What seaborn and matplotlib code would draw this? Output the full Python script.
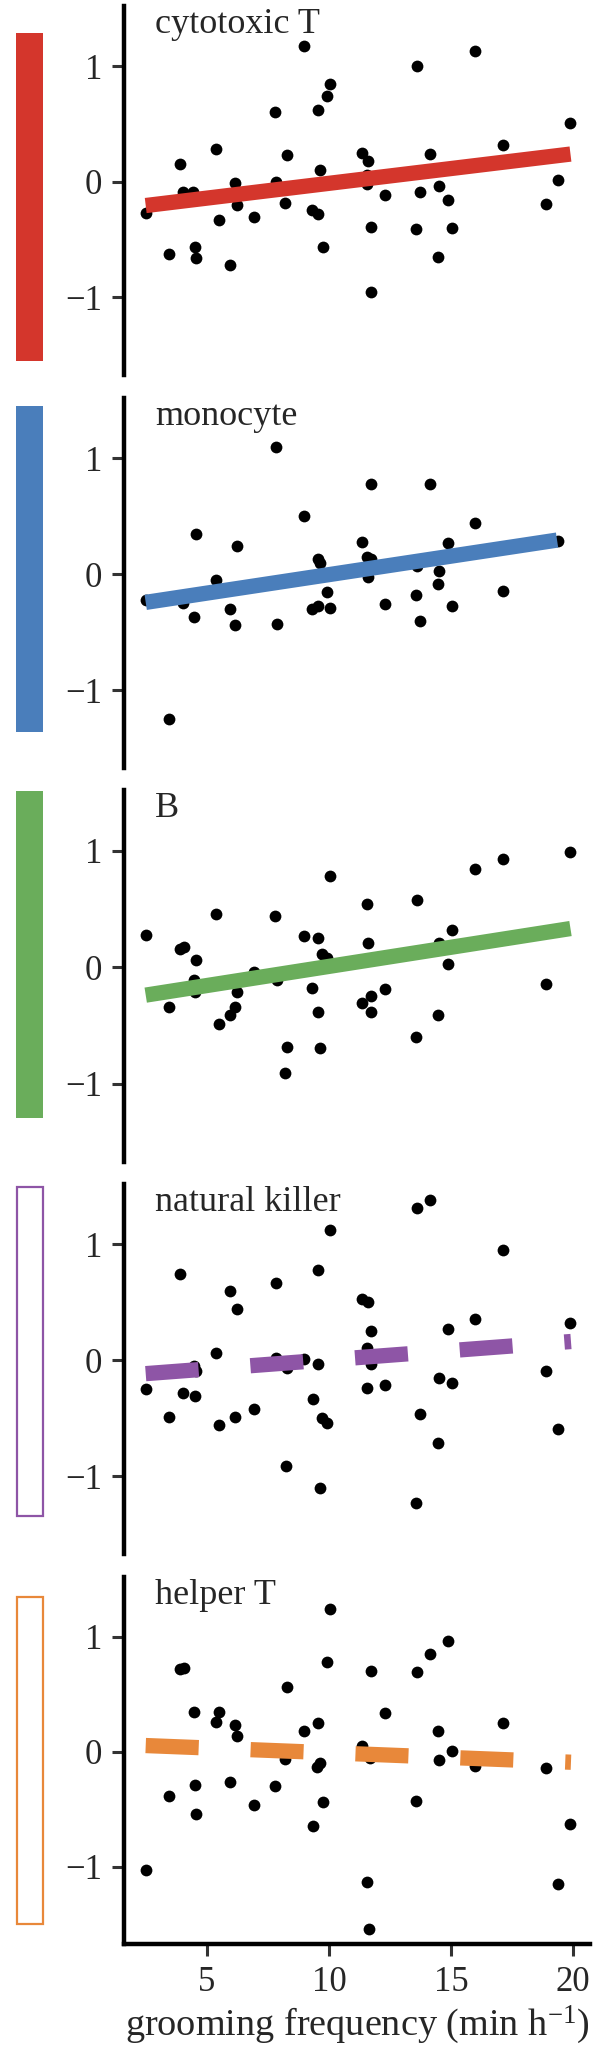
import matplotlib
matplotlib.use("Agg")
import matplotlib.pyplot as plt
import seaborn as sns
from matplotlib.patches import Rectangle

# cell types, colours and whether the slope is drawn solid (significant) or dashed
cell_types = ["cytotoxic T", "monocyte", "B", "natural killer", "helper T"]
colors = ["#D4362C", "#4A7EBB", "#6AAD5B", "#8E55A6", "#E8883A"]
significant = [True, True, True, False, False]

x_cyto = [2.49, 3.46, 3.88, 4.03, 4.44, 4.51, 4.55, 5.37, 5.51, 5.94, 6.15, 6.23, 6.91, 7.80, 7.83,
          8.20, 8.27, 8.98, 9.29, 9.56, 9.56, 9.63, 9.74, 9.90, 10.03, 11.34, 11.61, 11.57, 11.57,
          11.71, 11.72, 12.30, 13.55, 13.59, 13.74, 14.15, 14.45, 14.51, 14.89, 15.05, 15.98, 17.12,
          18.91, 19.40, 19.90]
y_cyto = [-0.27, -0.62, 0.15, -0.09, -0.09, -0.56, -0.66, 0.28, -0.33, -0.72, -0.01, -0.20, -0.30,
          0.60, 0.00, -0.18, 0.23, 1.17, -0.24, -0.28, 0.62, 0.10, -0.56, 0.74, 0.85, 0.25, 0.18,
          0.06, -0.02, -0.39, -0.95, -0.11, -0.41, 1.00, -0.09, 0.24, -0.65, -0.04, -0.16, -0.40,
          1.13, 0.32, -0.19, 0.02, 0.51]

x_mono = [2.49, 3.46, 4.03, 4.47, 4.55, 5.37, 5.94, 6.15, 6.23, 7.81, 7.86, 8.98, 9.32, 9.56, 9.56,
          9.63, 9.90, 10.03, 11.37, 11.57, 11.71, 11.61, 11.72, 12.30, 13.55, 13.59, 13.74, 14.15,
          14.45, 14.51, 14.89, 15.05, 15.98, 17.12, 19.40]
y_mono = [-0.22, -1.25, -0.25, -0.37, 0.35, -0.05, -0.30, -0.44, 0.24, 1.10, -0.43, 0.50, -0.30,
          -0.27, 0.13, 0.10, -0.15, -0.29, 0.28, 0.15, 0.13, -0.02, 0.78, -0.26, -0.18, 0.07, -0.40,
          0.78, -0.08, 0.03, 0.27, -0.27, 0.44, -0.14, 0.29]

x_b = [2.49, 3.46, 3.88, 4.06, 4.55, 4.47, 4.51, 5.37, 5.51, 5.94, 6.15, 6.23, 6.91, 7.80, 7.86,
       8.20, 8.27, 8.98, 9.32, 9.56, 9.56, 9.63, 9.73, 9.90, 10.03, 11.34, 11.57, 11.61, 11.71,
       11.71, 12.30, 13.55, 13.59, 14.45, 14.51, 14.89, 15.05, 15.98, 17.12, 18.91, 19.90]
y_b = [0.28, -0.34, 0.16, 0.17, 0.06, -0.11, -0.21, 0.46, -0.49, -0.41, -0.34, -0.21, -0.04, 0.44,
       -0.11, -0.91, -0.68, 0.27, -0.18, 0.25, -0.38, -0.69, 0.11, 0.08, 0.78, -0.31, 0.54, 0.21,
       -0.25, -0.38, -0.19, -0.60, 0.58, -0.41, 0.21, 0.03, 0.32, 0.84, 0.93, -0.14, 0.99]

x_nk = [2.49, 3.46, 3.88, 4.03, 4.47, 4.55, 4.51, 5.37, 5.51, 5.94, 6.15, 6.23, 6.91, 7.84, 7.81,
        8.22, 8.27, 8.99, 9.33, 9.56, 9.56, 9.73, 9.90, 9.62, 10.03, 11.34, 11.61, 11.71, 11.57,
        11.71, 11.57, 12.30, 13.55, 13.59, 13.74, 14.15, 14.45, 14.51, 14.89, 15.05, 15.98, 17.12,
        18.91, 19.40, 19.90]
y_nk = [-0.25, -0.49, 0.74, -0.28, -0.05, -0.09, -0.31, 0.06, -0.56, 0.60, -0.49, 0.44, -0.42,
        0.67, 0.02, -0.91, -0.07, 0.01, -0.33, 0.78, -0.03, -0.50, -0.54, -1.10, 1.12, 0.53, 0.50,
        0.25, 0.11, -0.03, -0.24, -0.21, -1.23, 1.31, -0.46, 1.38, -0.71, -0.15, 0.27, -0.20,
        0.36, 0.95, -0.09, -0.59, 0.32]

x_helper = [2.49, 3.46, 3.88, 4.06, 4.47, 4.51, 4.55, 5.37, 5.51, 5.94, 6.15, 6.23, 6.91, 7.80,
            8.20, 8.27, 8.98, 9.33, 9.56, 9.52, 9.63, 9.74, 9.90, 10.03, 11.37, 11.57, 11.63,
            11.68, 11.71, 12.30, 13.55, 13.59, 14.15, 14.45, 14.51, 14.89, 15.05, 15.98, 17.12,
            18.91, 19.40, 19.90]
y_helper = [-1.03, -0.38, 0.72, 0.73, 0.35, -0.29, -0.54, 0.26, 0.35, -0.26, 0.23, 0.14, -0.46,
            -0.30, -0.06, 0.56, 0.18, -0.64, 0.25, -0.13, -0.10, -0.44, 0.78, 1.24, 0.05, -1.13,
            -1.54, -0.05, 0.70, 0.34, -0.43, 0.69, 0.85, 0.18, -0.07, 0.96, 0.01, -0.12, 0.25,
            -0.14, -1.15, -0.63]

xs = [x_cyto, x_mono, x_b, x_nk, x_helper]
ys = [y_cyto, y_mono, y_b, y_nk, y_helper]

# fitted slopes, read as end points of each line
fit_x_start = 2.49
fit_x_end = [19.90, 19.35, 19.90, 19.92, 19.92]
fit_y_start = [-0.205, -0.242, -0.239, -0.115, 0.055]
fit_y_end = [0.24, 0.295, 0.332, 0.162, -0.09]

x_ticks = [5, 10, 15, 20]
y_ticks = [-1, 0, 1]

sns.set_style("ticks")
plt.rcParams["font.family"] = ["Liberation Serif", "DejaVu Serif"]
plt.rcParams["mathtext.default"] = "regular"

W, H = 616, 2054
fig = plt.figure(figsize=(W / 100, H / 100), dpi=100)

# panel rows and side boxes in pixels (top, bottom)
rows = [(6, 375), (398, 768), (790, 1162), (1184, 1554), (1577, 1944)]
boxes = [(33, 361), (406, 732), (791, 1118), (1187, 1516), (1597, 1924)]
left, right = 124, 590
lw = 11

for i, name in enumerate(cell_types):
    top, bot = rows[i]
    ax = fig.add_axes([left / W, 1 - bot / H, (right - left) / W, (bot - top) / H])
    sns.scatterplot(x=xs[i], y=ys[i], ax=ax, color="black", s=72, linewidth=0,
                    legend=False, zorder=2)
    ls = "-" if significant[i] else (0, (3.47, 3.4))
    ax.plot([fit_x_start, fit_x_end[i]], [fit_y_start[i], fit_y_end[i]], color=colors[i],
            lw=lw, ls=ls, solid_capstyle="butt", dash_capstyle="butt", zorder=3)

    ax.set_xlim(1.6, 20.7)
    ax.set_ylim(-1.67, 1.52)
    ax.set_yticks(y_ticks)
    ax.tick_params(axis="y", length=8.5, width=2.2, color="#333333", labelsize=25, pad=7)
    for s in ["top", "right"]:
        ax.spines[s].set_visible(False)
    ax.spines["left"].set_linewidth(3.2)
    ax.spines["left"].set_color("black")
    if i < 4:
        ax.spines["bottom"].set_visible(False)
        ax.set_xticks([])
    else:
        ax.spines["bottom"].set_linewidth(3.2)
        ax.spines["bottom"].set_color("black")
        ax.set_xticks(x_ticks)
        ax.tick_params(axis="x", length=8.5, width=2.2, color="#333333", labelsize=25, pad=7)
        ax.set_xlabel("grooming frequency (min h$^{-1}$)", fontsize=27.5, labelpad=4)
    ax.set_ylabel("")
    ax.text(0.066, 0.927, name, transform=ax.transAxes, fontsize=26, va="baseline", ha="left")

    # colour key box on the left: filled when significant, outline otherwise
    btop, bbot = boxes[i]
    if significant[i]:
        rect = Rectangle((15.7 / W, 1 - bbot / H), 27 / W, (bbot - btop) / H,
                         transform=fig.transFigure, facecolor=colors[i], edgecolor="none")
    else:
        rect = Rectangle((16.8 / W, 1 - bbot / H), 26.6 / W, (bbot - btop) / H,
                         transform=fig.transFigure, facecolor="white", edgecolor=colors[i],
                         linewidth=1.6)
    fig.add_artist(rect)

fig.savefig("out.png", dpi=100)
